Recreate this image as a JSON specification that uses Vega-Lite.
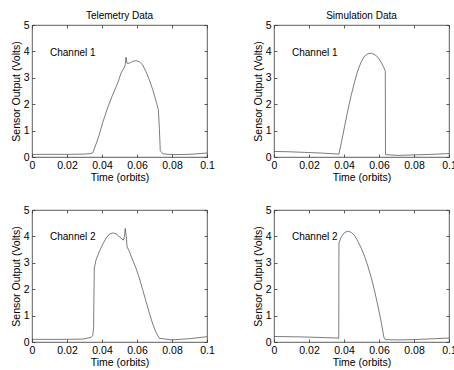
{
  "$schema": "https://vega.github.io/schema/vega-lite/v6.json",
  "padding": {"left": 10, "top": 10, "right": 5, "bottom": 5},
  "background": "white",
  "datasets": {
    "curves": [
      {"p":"TC1","t":0,"v":0.1},{"p":"TC1","t":0.01,"v":0.1},{"p":"TC1","t":0.02,"v":0.1},{"p":"TC1","t":0.03,"v":0.11},{"p":"TC1","t":0.0335,"v":0.13},{"p":"TC1","t":0.0347,"v":0.15},{"p":"TC1","t":0.0366,"v":0.49},{"p":"TC1","t":0.0385,"v":0.86},{"p":"TC1","t":0.0404,"v":1.3},{"p":"TC1","t":0.0432,"v":1.86},{"p":"TC1","t":0.0461,"v":2.36},{"p":"TC1","t":0.049,"v":2.8},{"p":"TC1","t":0.0509,"v":3.18},{"p":"TC1","t":0.0528,"v":3.4},{"p":"TC1","t":0.0533,"v":3.5},{"p":"TC1","t":0.0537,"v":3.78},{"p":"TC1","t":0.0543,"v":3.55},{"p":"TC1","t":0.0556,"v":3.55},{"p":"TC1","t":0.0575,"v":3.62},{"p":"TC1","t":0.0594,"v":3.65},{"p":"TC1","t":0.0613,"v":3.61},{"p":"TC1","t":0.0632,"v":3.49},{"p":"TC1","t":0.0651,"v":3.24},{"p":"TC1","t":0.067,"v":2.93},{"p":"TC1","t":0.069,"v":2.55},{"p":"TC1","t":0.0709,"v":2.11},{"p":"TC1","t":0.0722,"v":1.8},{"p":"TC1","t":0.0728,"v":1.05},{"p":"TC1","t":0.0733,"v":0.24},{"p":"TC1","t":0.0747,"v":0.12},{"p":"TC1","t":0.08,"v":0.09},{"p":"TC1","t":0.09,"v":0.1},{"p":"TC1","t":0.1,"v":0.15},
      {"p":"SC1","t":0,"v":0.21},{"p":"SC1","t":0.008,"v":0.2},{"p":"SC1","t":0.0175,"v":0.175},{"p":"SC1","t":0.027,"v":0.15},{"p":"SC1","t":0.0371,"v":0.11},{"p":"SC1","t":0.0385,"v":0.55},{"p":"SC1","t":0.0404,"v":1.18},{"p":"SC1","t":0.0423,"v":1.8},{"p":"SC1","t":0.0442,"v":2.36},{"p":"SC1","t":0.0461,"v":2.86},{"p":"SC1","t":0.048,"v":3.3},{"p":"SC1","t":0.0499,"v":3.61},{"p":"SC1","t":0.0518,"v":3.83},{"p":"SC1","t":0.0537,"v":3.91},{"p":"SC1","t":0.0556,"v":3.93},{"p":"SC1","t":0.0575,"v":3.88},{"p":"SC1","t":0.0594,"v":3.78},{"p":"SC1","t":0.0613,"v":3.58},{"p":"SC1","t":0.0632,"v":3.33},{"p":"SC1","t":0.0636,"v":3.24},{"p":"SC1","t":0.0637,"v":0.09},{"p":"SC1","t":0.0709,"v":0.06},{"p":"SC1","t":0.08,"v":0.08},{"p":"SC1","t":0.09,"v":0.1},{"p":"SC1","t":0.1,"v":0.13},
      {"p":"TC2","t":0,"v":0.1},{"p":"TC2","t":0.0175,"v":0.1},{"p":"TC2","t":0.029,"v":0.11},{"p":"TC2","t":0.0337,"v":0.175},{"p":"TC2","t":0.0347,"v":0.24},{"p":"TC2","t":0.0352,"v":0.55},{"p":"TC2","t":0.0356,"v":2.8},{"p":"TC2","t":0.0366,"v":3.11},{"p":"TC2","t":0.0385,"v":3.43},{"p":"TC2","t":0.0404,"v":3.7},{"p":"TC2","t":0.0423,"v":3.93},{"p":"TC2","t":0.0442,"v":4.08},{"p":"TC2","t":0.0461,"v":4.13},{"p":"TC2","t":0.048,"v":4.1},{"p":"TC2","t":0.0499,"v":3.99},{"p":"TC2","t":0.0522,"v":3.86},{"p":"TC2","t":0.0528,"v":3.99},{"p":"TC2","t":0.0533,"v":4.3},{"p":"TC2","t":0.0539,"v":3.99},{"p":"TC2","t":0.0543,"v":3.61},{"p":"TC2","t":0.0556,"v":3.43},{"p":"TC2","t":0.0575,"v":3.11},{"p":"TC2","t":0.0594,"v":2.8},{"p":"TC2","t":0.0613,"v":2.43},{"p":"TC2","t":0.0632,"v":1.99},{"p":"TC2","t":0.0651,"v":1.55},{"p":"TC2","t":0.067,"v":1.11},{"p":"TC2","t":0.069,"v":0.68},{"p":"TC2","t":0.0709,"v":0.36},{"p":"TC2","t":0.0728,"v":0.14},{"p":"TC2","t":0.08,"v":0.08},{"p":"TC2","t":0.09,"v":0.125},{"p":"TC2","t":0.1,"v":0.2},
      {"p":"SC2","t":0,"v":0.21},{"p":"SC2","t":0.0175,"v":0.19},{"p":"SC2","t":0.0366,"v":0.15},{"p":"SC2","t":0.037,"v":0.14},{"p":"SC2","t":0.0371,"v":3.74},{"p":"SC2","t":0.0385,"v":3.99},{"p":"SC2","t":0.0404,"v":4.15},{"p":"SC2","t":0.0423,"v":4.2},{"p":"SC2","t":0.0442,"v":4.15},{"p":"SC2","t":0.0461,"v":4.03},{"p":"SC2","t":0.048,"v":3.8},{"p":"SC2","t":0.0499,"v":3.55},{"p":"SC2","t":0.0518,"v":3.24},{"p":"SC2","t":0.0537,"v":2.86},{"p":"SC2","t":0.0556,"v":2.43},{"p":"SC2","t":0.0575,"v":1.93},{"p":"SC2","t":0.0594,"v":1.36},{"p":"SC2","t":0.0613,"v":0.74},{"p":"SC2","t":0.0628,"v":0.18},{"p":"SC2","t":0.0636,"v":0.09},{"p":"SC2","t":0.0709,"v":0.08},{"p":"SC2","t":0.08,"v":0.09},{"p":"SC2","t":0.1,"v":0.15}
    ],
    "labels": [
      {"p":"TC1","t":0.0103,"v":3.95,"label":"Channel 1"},
      {"p":"SC1","t":0.0103,"v":3.95,"label":"Channel 1"},
      {"p":"TC2","t":0.0103,"v":3.98,"label":"Channel 2"},
      {"p":"SC2","t":0.0103,"v":3.98,"label":"Channel 2"}
    ]
  },
  "columns": 2,
  "bounds": "flush",
  "spacing": {"row": 53, "column": 67},
  "concat": [
    {
      "width": 175, "height": 132,
      "title": {"text": "Telemetry Data", "offset": -1},
      "layer": [
        {"data": {"name": "curves"}, "transform": [{"filter": "datum.p === 'TC1'"}],
         "mark": {"type": "line", "color": "#444", "strokeWidth": 0.7},
         "encoding": {
           "x": {"field": "t", "type": "quantitative", "scale": {"domain": [0, 0.1], "nice": false}, "axis": {"orient": "bottom", "values": [0, 0.02, 0.04, 0.06, 0.08, 0.1], "format": "~g", "title": "Time (orbits)"}},
           "y": {"field": "v", "type": "quantitative", "scale": {"domain": [0, 5], "nice": false}, "axis": {"orient": "left", "values": [0, 1, 2, 3, 4, 5], "format": "d", "title": "Sensor Output (Volts)"}}
         }},
        {"data": {"name": "labels"}, "transform": [{"filter": "datum.p === 'TC1'"}],
         "mark": {"type": "text", "align": "left", "baseline": "middle", "font": "Liberation Sans", "fontSize": 10, "color": "#000"},
         "encoding": {
           "x": {"field": "t", "type": "quantitative", "axis": {"orient": "top", "values": [0, 0.02, 0.04, 0.06, 0.08, 0.1], "labels": false, "title": null}},
           "y": {"field": "v", "type": "quantitative", "axis": {"orient": "right", "values": [0, 1, 2, 3, 4, 5], "labels": false, "title": null}},
           "text": {"field": "label"}
         }}
      ],
      "resolve": {"axis": {"x": "independent", "y": "independent"}}
    },
    {
      "width": 175, "height": 132,
      "title": {"text": "Simulation Data", "offset": -1},
      "layer": [
        {"data": {"name": "curves"}, "transform": [{"filter": "datum.p === 'SC1'"}],
         "mark": {"type": "line", "color": "#444", "strokeWidth": 0.7},
         "encoding": {
           "x": {"field": "t", "type": "quantitative", "scale": {"domain": [0, 0.1], "nice": false}, "axis": {"orient": "bottom", "values": [0, 0.02, 0.04, 0.06, 0.08, 0.1], "format": "~g", "title": "Time (orbits)"}},
           "y": {"field": "v", "type": "quantitative", "scale": {"domain": [0, 5], "nice": false}, "axis": {"orient": "left", "values": [0, 1, 2, 3, 4, 5], "format": "d", "title": "Sensor Output (Volts)"}}
         }},
        {"data": {"name": "labels"}, "transform": [{"filter": "datum.p === 'SC1'"}],
         "mark": {"type": "text", "align": "left", "baseline": "middle", "font": "Liberation Sans", "fontSize": 10, "color": "#000"},
         "encoding": {
           "x": {"field": "t", "type": "quantitative", "axis": {"orient": "top", "values": [0, 0.02, 0.04, 0.06, 0.08, 0.1], "labels": false, "title": null}},
           "y": {"field": "v", "type": "quantitative", "axis": {"orient": "right", "values": [0, 1, 2, 3, 4, 5], "labels": false, "title": null}},
           "text": {"field": "label"}
         }}
      ],
      "resolve": {"axis": {"x": "independent", "y": "independent"}}
    },
    {
      "width": 175, "height": 132,
      "layer": [
        {"data": {"name": "curves"}, "transform": [{"filter": "datum.p === 'TC2'"}],
         "mark": {"type": "line", "color": "#444", "strokeWidth": 0.7},
         "encoding": {
           "x": {"field": "t", "type": "quantitative", "scale": {"domain": [0, 0.1], "nice": false}, "axis": {"orient": "bottom", "values": [0, 0.02, 0.04, 0.06, 0.08, 0.1], "format": "~g", "title": "Time (orbits)"}},
           "y": {"field": "v", "type": "quantitative", "scale": {"domain": [0, 5], "nice": false}, "axis": {"orient": "left", "values": [0, 1, 2, 3, 4, 5], "format": "d", "title": "Sensor Output (Volts)"}}
         }},
        {"data": {"name": "labels"}, "transform": [{"filter": "datum.p === 'TC2'"}],
         "mark": {"type": "text", "align": "left", "baseline": "middle", "font": "Liberation Sans", "fontSize": 10, "color": "#000"},
         "encoding": {
           "x": {"field": "t", "type": "quantitative", "axis": {"orient": "top", "values": [0, 0.02, 0.04, 0.06, 0.08, 0.1], "labels": false, "title": null}},
           "y": {"field": "v", "type": "quantitative", "axis": {"orient": "right", "values": [0, 1, 2, 3, 4, 5], "labels": false, "title": null}},
           "text": {"field": "label"}
         }}
      ],
      "resolve": {"axis": {"x": "independent", "y": "independent"}}
    },
    {
      "width": 175, "height": 132,
      "layer": [
        {"data": {"name": "curves"}, "transform": [{"filter": "datum.p === 'SC2'"}],
         "mark": {"type": "line", "color": "#444", "strokeWidth": 0.7},
         "encoding": {
           "x": {"field": "t", "type": "quantitative", "scale": {"domain": [0, 0.1], "nice": false}, "axis": {"orient": "bottom", "values": [0, 0.02, 0.04, 0.06, 0.08, 0.1], "format": "~g", "title": "Time (orbits)"}},
           "y": {"field": "v", "type": "quantitative", "scale": {"domain": [0, 5], "nice": false}, "axis": {"orient": "left", "values": [0, 1, 2, 3, 4, 5], "format": "d", "title": "Sensor Output (Volts)"}}
         }},
        {"data": {"name": "labels"}, "transform": [{"filter": "datum.p === 'SC2'"}],
         "mark": {"type": "text", "align": "left", "baseline": "middle", "font": "Liberation Sans", "fontSize": 10, "color": "#000"},
         "encoding": {
           "x": {"field": "t", "type": "quantitative", "axis": {"orient": "top", "values": [0, 0.02, 0.04, 0.06, 0.08, 0.1], "labels": false, "title": null}},
           "y": {"field": "v", "type": "quantitative", "axis": {"orient": "right", "values": [0, 1, 2, 3, 4, 5], "labels": false, "title": null}},
           "text": {"field": "label"}
         }}
      ],
      "resolve": {"axis": {"x": "independent", "y": "independent"}}
    }
  ],
  "config": {
    "view": {"stroke": "#333", "strokeWidth": 0.8},
    "axis": {
      "grid": false, "domain": false,
      "labelFont": "Liberation Sans", "titleFont": "Liberation Sans",
      "labelFontSize": 10.5, "titleFontSize": 10.5, "titleFontWeight": "normal",
      "labelColor": "#000", "titleColor": "#000",
      "tickColor": "#333", "tickWidth": 0.8, "tickSize": -3,
      "labelPadding": 6, "titlePadding": 2
    },
    "axisX": {"labelFlush": false},
    "axisY": {"labelFlush": false},
    "title": {"font": "Liberation Sans", "fontSize": 10, "fontWeight": "normal", "color": "#000"}
  }
}
